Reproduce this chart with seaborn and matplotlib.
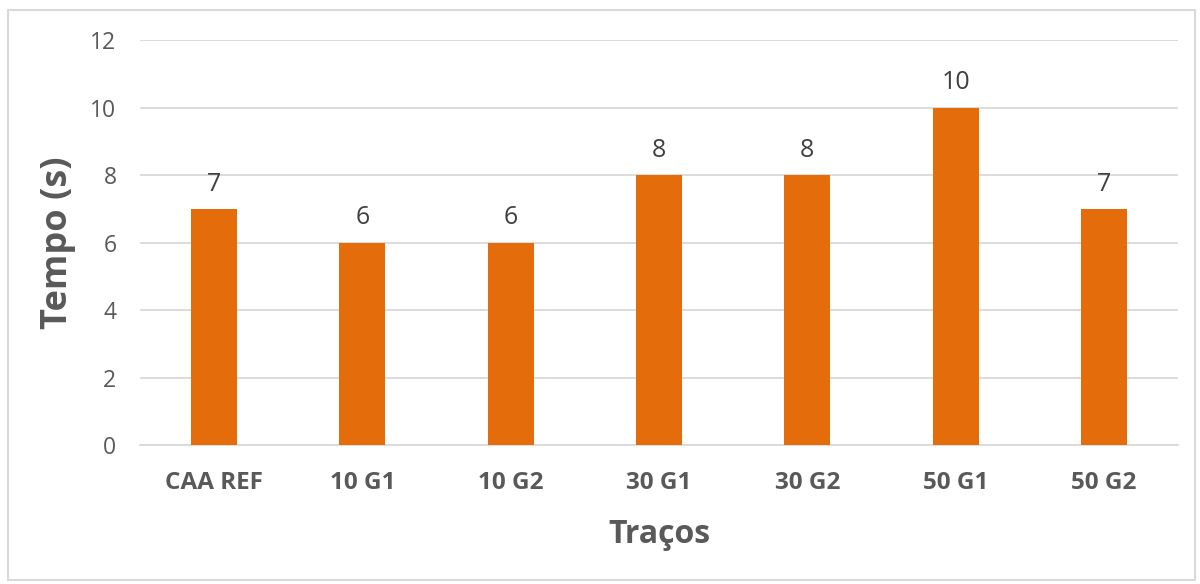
import matplotlib
matplotlib.use("Agg")
import matplotlib.pyplot as plt
import matplotlib.patches as patches
import seaborn as sns
import pandas as pd

categorias = ["CAA REF", "10 G1", "10 G2", "30 G1", "30 G2", "50 G1", "50 G2"]
tempos = [7, 6, 6, 8, 8, 10, 7]
y_ticks = [0, 2, 4, 6, 8, 10, 12]

sns.set_theme(style="white")
plt.rcParams["font.family"] = ["Open Sans", "DejaVu Sans"]

cor_barra = "#E46C0A"
cor_texto = "#595959"
cor_grade = "#D9D9D9"

df = pd.DataFrame({"Traços": categorias, "Tempo": tempos})

fig = plt.figure(figsize=(12, 5.84), dpi=100)
ax = fig.add_axes([0.1167, 0.238, 0.8650, 0.6935])

sns.barplot(data=df, x="Traços", y="Tempo", color=cor_barra, width=0.31,
            saturation=1, linewidth=0, ax=ax, zorder=3)

ax.set_ylim(0, 12)
ax.set_xlim(-0.5, len(categorias) - 0.5)
ax.set_yticks(y_ticks)
ax.set_yticklabels([str(v) for v in y_ticks], fontsize=16.5, color=cor_texto)
ax.set_xticks(range(len(categorias)))
ax.set_xticklabels(categorias, fontsize=17.5, fontweight="bold", color=cor_texto)
ax.tick_params(axis="both", length=0)
ax.tick_params(axis="y", pad=17)
ax.tick_params(axis="x", pad=19)

ax.yaxis.grid(True, color=cor_grade, linewidth=1.3, zorder=0)
ax.xaxis.grid(False)
for lado in ["top", "right", "left"]:
    ax.spines[lado].set_visible(False)
ax.spines["bottom"].set_color(cor_grade)
ax.spines["bottom"].set_linewidth(1.3)

# rótulos de valor acima de cada barra
for i, v in enumerate(tempos):
    ax.text(i, v + 0.36, str(v), ha="center", va="bottom", fontsize=18,
            color="#404040")

ax.set_ylabel("Tempo (s)", fontsize=26, fontweight="bold", color=cor_texto,
              labelpad=10)
ax.set_xlabel("Traços", fontsize=23, fontweight="bold", color=cor_texto,
              labelpad=16)

fig.patches.append(patches.Rectangle((0.007, 0.007), 0.989, 0.976,
                                     transform=fig.transFigure, fill=False,
                                     edgecolor=cor_grade, linewidth=1.5))

fig.savefig("out.png", dpi=100, facecolor="white")
